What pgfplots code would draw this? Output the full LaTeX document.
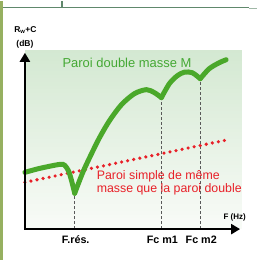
\documentclass[border=0pt]{standalone}
\usepackage{pgfplots}
\pgfplotsset{compat=1.18}
\usepackage{fontspec}
\setmainfont{Liberation Sans}
\usetikzlibrary{arrows.meta}
\definecolor{cgreen}{RGB}{74,168,42}
\definecolor{ctitle}{RGB}{68,168,52}
\definecolor{cred}{RGB}{232,32,40}
\definecolor{ptop}{RGB}{211,232,209}
\definecolor{pbot}{RGB}{248,251,247}
\definecolor{colive}{RGB}{150,176,96}
\definecolor{cframe}{RGB}{96,136,108}
\begin{document}
\begin{tikzpicture}
\begin{axis}[
  width=258pt, height=260pt, scale only axis,
  xmin=-25, xmax=233, ymin=-31, ymax=229,
  hide axis, clip=false,
]
% page background and frame remnants
\fill[white] (axis cs:-25,-31) rectangle (axis cs:233,229);
\fill[colive] (axis cs:-25,-31) rectangle (axis cs:-22,229);
\draw[cframe, line width=1pt] (axis cs:-22,222) -- (axis cs:225,222);
\draw[cframe!60!white, line width=1.6pt] (axis cs:225,221.5) -- (axis cs:233,221.5);
\draw[cframe, line width=2pt] (axis cs:37,222) -- (axis cs:37,229);
% gradient panel (manual strips)
\pgfplotsinvokeforeach{0,2,...,98}{
  \fill[ptop!#1!pbot] (axis cs:0,{#1*1.8}) rectangle (axis cs:218,{min(#1*1.8+3.8,180)});
}
% dashed verticals
\addplot[black!65, line width=1.1pt, dash pattern=on 3pt off 2pt] coordinates {(50,0) (50,34)};
\addplot[black!65, line width=1.1pt, dash pattern=on 3pt off 2pt] coordinates {(137,0) (137,130)};
\addplot[black!65, line width=1.1pt, dash pattern=on 3pt off 2pt] coordinates {(176,0) (176,149)};
% red dotted (single wall)
\addplot[cred, line width=3.6pt, line cap=round, dash pattern=on 0pt off 6.2pt] coordinates {(0,47) (205,90)};
% green curve (double wall)
\addplot[cgreen, line width=5pt, line cap=round, smooth, tension=0.45] coordinates {
(0,57) (15,61) (35,65) (40,64) (44,58) (47,48) (50,36)};
\addplot[cgreen, line width=5pt, line cap=round, smooth, tension=0.5] coordinates {
(50,36) (53,44) (59,59) (67,76) (75,92) (85,109) (97,125) (110,136) (122,140) (130,137) (137,132)};
\addplot[cgreen, line width=5pt, line cap=round, smooth, tension=0.5] coordinates {
(137,132) (145,146) (153,154) (160,157.5) (168,157) (176,151)};
\addplot[cgreen, line width=5pt, line cap=round, smooth, tension=0.5] coordinates {
(176,151) (185,161) (195,167) (202,170)};
% axes
\draw[black, line width=2.6pt, {Triangle[width=10pt,length=9pt]}-{Triangle[width=10pt,length=9pt]}]
  (axis cs:0,177) -- (axis cs:0,0) -- (axis cs:216,0);
% texts
\node[ctitle, font=\fontsize{13}{14}\selectfont] at (axis cs:102.5,167) {Paroi double masse M};
\node[cred, font=\fontsize{12.4}{13}\selectfont, anchor=west, inner sep=0pt] at (axis cs:72,53) {Paroi simple de même};
\node[cred, font=\fontsize{12.4}{13}\selectfont, anchor=west, inner sep=0pt] at (axis cs:72,40) {masse que la paroi double};
\node[font=\bfseries\fontsize{10.8}{12}\selectfont] at (axis cs:51,-11) {F.rés.};
\node[font=\bfseries\fontsize{10.8}{12}\selectfont] at (axis cs:138,-11) {Fc m1};
\node[font=\bfseries\fontsize{10.8}{12}\selectfont] at (axis cs:177,-11) {Fc m2};
\node[font=\bfseries\fontsize{8}{9}\selectfont] at (axis cs:210.5,12) {F (Hz)};
\node[font=\bfseries\fontsize{8.5}{9}\selectfont] at (axis cs:0.5,200) {R\textsubscript{w}+C};
\node[font=\bfseries\fontsize{8.5}{9}\selectfont] at (axis cs:0,186) {(dB)};
\end{axis}
\end{tikzpicture}
\end{document}
